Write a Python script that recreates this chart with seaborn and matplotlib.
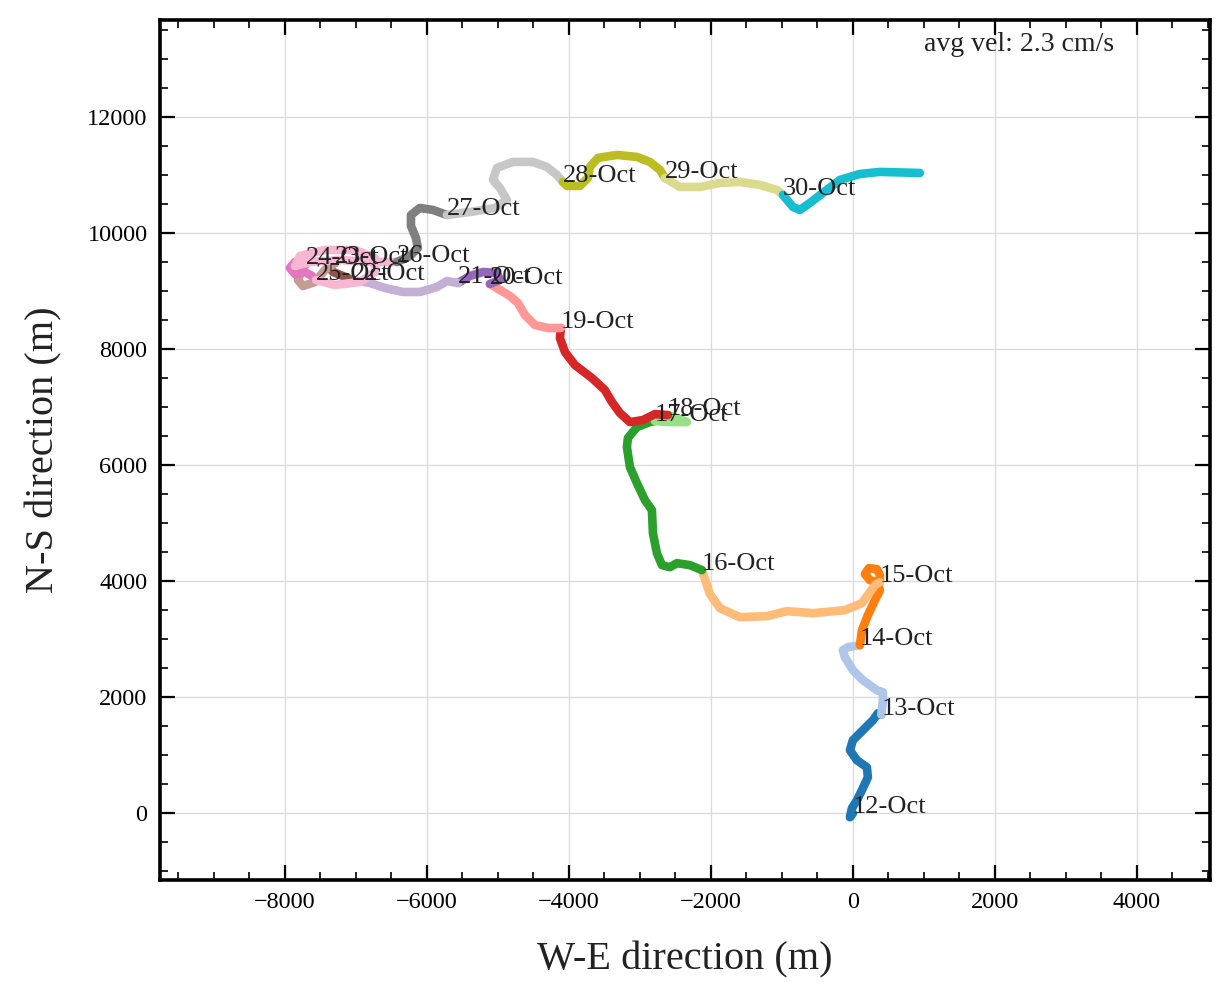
import matplotlib
matplotlib.use("Agg")
import matplotlib.pyplot as plt
import seaborn as sns
import pandas as pd
from matplotlib.ticker import MultipleLocator

# ---- data (metres, progressive vector: W-E / N-S displacement) ----
day_labels = ["12-Oct", "13-Oct", "14-Oct", "15-Oct", "16-Oct", "17-Oct", "18-Oct",
              "19-Oct", "20-Oct", "21-Oct", "22-Oct", "23-Oct", "24-Oct", "25-Oct",
              "26-Oct", "27-Oct", "28-Oct", "29-Oct", "30-Oct"]

we_segments = [
    [0, -42, -14, 56, 127, 211, 197, 56, -42, 0, 141, 282, 352, 400],
    [400, 423, 423, 338, 141, 0, -113, -141, -70, 99],
    [99, 127, 211, 310, 380, 338, 239, 169, 225, 338, 380, 380],
    [380, 310, 127, -113, -563, -930, -1211, -1592, -1873, -2014, -2127],
    [-2127, -2296, -2479, -2577, -2690, -2761, -2817, -2831, -2930, -3042, -3141, -3183,
     -3169, -3042, -2859, -2789],
    [-2789, -2577, -2338, -2437, -2606],
    [-2606, -2789, -2958, -3141, -3282, -3394, -3493, -3676, -3915, -4056, -4127, -4113],
    [-4113, -4296, -4479, -4620, -4718, -4831, -4972, -5113],
    [-5113, -4972, -5014, -5211, -5394, -5563],
    [-5563, -5718, -5859, -6099, -6338, -6592, -6803, -7056],
    [-7056, -7183, -7324, -7394, -7296],
    [-7296, -7437, -7577, -7746, -7817, -7761, -7704],
    [-7704, -7859, -7930, -7859, -7718, -7620, -7563],
    [-7563, -7296, -6944, -6732, -6732, -7014, -7437, -7789, -7859, -7648, -7225, -6803, -6423],
    [-6423, -6239, -6127, -6155, -6225, -6225, -6099, -5915, -5718],
    [-5718, -5394, -5042, -4873, -4972, -5070, -5014, -4789, -4507, -4310, -4169, -4085],
    [-4085, -4028, -3845, -3732, -3704, -3592, -3324, -3042, -2859, -2718, -2648],
    [-2648, -2437, -2155, -1873, -1592, -1310, -1070, -986],
    [-986, -845, -746, -606, -423, -183, 99, 380, 944],
]

ns_segments = [
    [0, -69, 86, 224, 397, 621, 793, 914, 1086, 1259, 1431, 1603, 1724, 1700],
    [1700, 1948, 2086, 2120, 2293, 2466, 2690, 2810, 2862, 2897],
    [2897, 3155, 3414, 3672, 3845, 3983, 4017, 4121, 4224, 4207, 4103, 3983],
    [3983, 3931, 3621, 3500, 3448, 3483, 3397, 3379, 3534, 3776, 4190],
    [4190, 4276, 4310, 4241, 4276, 4483, 4828, 5224, 5397, 5690, 5966, 6310,
     6466, 6655, 6741, 6759],
    [6759, 6741, 6741, 6793, 6862],
    [6862, 6879, 6776, 6741, 6897, 7086, 7293, 7500, 7724, 7948, 8190, 8362],
    [8362, 8362, 8414, 8586, 8793, 8914, 9017, 9121],
    [9121, 9190, 9310, 9328, 9259, 9138],
    [9138, 9172, 9069, 8983, 8983, 9052, 9138, 9190],
    [9190, 9259, 9328, 9431, 9483],
    [9483, 9362, 9155, 9086, 9190, 9362, 9466],
    [9466, 9500, 9397, 9293, 9328, 9259, 9190],
    [9190, 9103, 9155, 9328, 9569, 9707, 9707, 9603, 9431, 9500, 9534, 9500, 9500],
    [9500, 9603, 9741, 9914, 10121, 10310, 10431, 10397, 10310],
    [10310, 10362, 10431, 10569, 10776, 10914, 11121, 11224, 11224, 11138, 11000, 10879],
    [10879, 10810, 10810, 10948, 11138, 11293, 11345, 11310, 11224, 11086, 10948],
    [10948, 10793, 10793, 10862, 10879, 10828, 10741, 10655],
    [10655, 10448, 10397, 10517, 10690, 10914, 11017, 11052, 11034],
]

avg_vel_text = "avg vel: 2.3 cm/s"

# ---- build long table ----
rows = []
for lab, xs, ys in zip(day_labels, we_segments, ns_segments):
    for i, (x, y) in enumerate(zip(xs, ys)):
        rows.append({"day": lab, "order": i, "we": x, "ns": y})
df = pd.DataFrame(rows)

sns.set_theme(style="white")
plt.rcParams["font.family"] = ["Liberation Serif", "DejaVu Serif"]
plt.rcParams["axes.unicode_minus"] = True

fig = plt.figure(figsize=(12.25, 9.82), dpi=100)
ax = fig.add_axes([160 / 1225, 1 - 880 / 982, 1050 / 1225, 860 / 982])

palette = sns.color_palette("tab20", len(day_labels))
sns.lineplot(data=df, x="we", y="ns", hue="day", hue_order=day_labels,
             palette=palette, sort=False, estimator=None, units="day",
             linewidth=6.2, legend=False, ax=ax, solid_capstyle="round",
             solid_joinstyle="round")

for lab, xs, ys in zip(day_labels, we_segments, ns_segments):
    ax.text(xs[0], ys[0], lab, fontsize=19, color="#222222", zorder=5)

ax.text(0.909, 0.971, avg_vel_text, transform=ax.transAxes, ha="right",
        va="center", fontsize=20, color="#222222")

ax.set_xlim(-9760, 5030)
ax.set_ylim(-1150, 13670)
ax.xaxis.set_major_locator(MultipleLocator(2000))
ax.xaxis.set_minor_locator(MultipleLocator(500))
ax.yaxis.set_major_locator(MultipleLocator(2000))
ax.yaxis.set_minor_locator(MultipleLocator(500))
ax.grid(True, which="major", color="#dcdcdc", linewidth=1)
ax.set_axisbelow(True)

ax.tick_params(which="both", direction="in", top=True, right=True,
               bottom=True, left=True, colors="black", labelsize=17.5)
ax.tick_params(which="major", length=11, width=1.6, pad=9)
ax.tick_params(which="minor", length=6, width=1.2)
for s in ax.spines.values():
    s.set_linewidth(2.6)
    s.set_color("black")

ax.set_xlabel("W-E direction (m)", fontsize=29, labelpad=20, color="#222222")
ax.set_ylabel("N-S direction (m)", fontsize=29, labelpad=18, color="#222222")

fig.savefig("out.png", dpi=100)
